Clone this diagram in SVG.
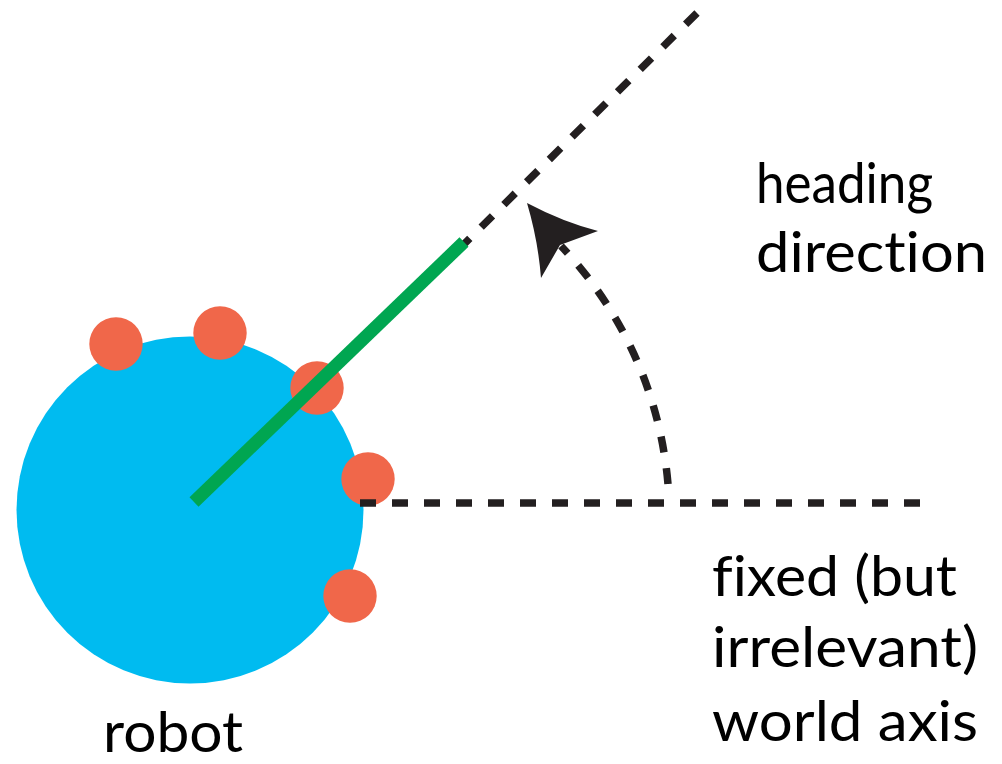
<svg xmlns="http://www.w3.org/2000/svg" width="1002" height="764" viewBox="0 0 1002 764">
  <style>
    .dash { fill: none; stroke: #231f20; stroke-width: 7.5; stroke-dasharray: 16 16; }
    .sensor { fill: #f0674a; }
    .label { font-family: Lato, "Liberation Sans", sans-serif; font-size: 57px; fill: #000000; font-variant-ligatures: none; }
  </style>
  <rect width="1002" height="764" fill="#ffffff"/>

  <!-- robot body with sensors -->
  <g id="robot">
    <circle cx="190" cy="510" r="173.5" fill="#00bbf0"/>
    <circle class="sensor" cx="116" cy="344" r="26.7"/>
    <circle class="sensor" cx="220" cy="333" r="26.7"/>
    <circle class="sensor" cx="317" cy="388" r="26.7"/>
    <circle class="sensor" cx="368" cy="479" r="26.7"/>
    <circle class="sensor" cx="350" cy="596" r="26.7"/>
  </g>

  <!-- axes, heading and angle arc -->
  <g id="connectors">
    <line class="dash" x1="360" y1="503" x2="922" y2="503"/>
    <line class="dash" x1="697" y1="13" x2="452" y2="256"/>
    <path class="dash" stroke-width="8" d="M 668 484 A 394 394 0 0 0 561 246"/>
    <path fill="#231f20" d="M 527 203 Q 563 222 598 231 L 560 245 L 541 278 Q 538 240 527 203 Z"/>
  </g>

  <g id="heading">
    <line x1="194" y1="502" x2="464" y2="242" stroke="#00a651" stroke-width="13"/>
  </g>

  <g id="label-heading">
    <text class="label" x="756" y="203" textLength="177" lengthAdjust="spacingAndGlyphs">heading</text>
    <text class="label" x="756" y="272" textLength="231" lengthAdjust="spacingAndGlyphs">direction</text>
  </g>
  <g id="label-axis">
    <text class="label" x="712" y="596" textLength="245" lengthAdjust="spacingAndGlyphs">fixed (but</text>
    <text class="label" x="712" y="667" textLength="266" lengthAdjust="spacingAndGlyphs">irrelevant)</text>
    <text class="label" x="712" y="741" textLength="266" lengthAdjust="spacingAndGlyphs">world axis</text>
  </g>
  <g id="label-robot">
    <text class="label" x="103" y="752" textLength="140" lengthAdjust="spacingAndGlyphs">robot</text>
  </g>
</svg>
